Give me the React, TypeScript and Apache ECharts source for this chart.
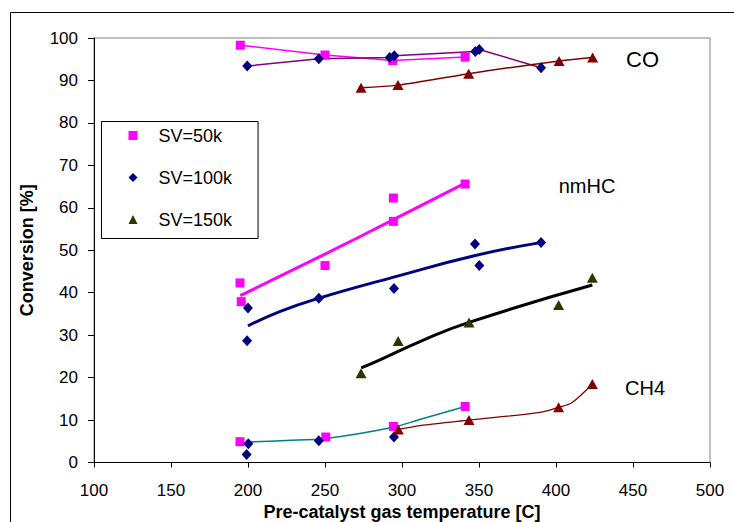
import React, { useEffect, useRef } from "react";
import * as echarts from "echarts";

// x-axis ticks and y-axis ticks
const xTicks = { min: 100, max: 500, step: 50 };
const yTicks = { min: 0, max: 100, step: 10 };

// CO conversion [temperature, %]
const coSV50 = [[195, 98.3], [250, 96.0], [294, 94.7], [341, 95.5]];
const coSV100 = [[199.5, 93.4], [246, 95.1], [292, 95.4], [295, 95.8], [347.6, 96.8], [350.2, 97.3], [390.3, 93.0]];
const coSV150 = [[273.4, 88.3], [297.4, 88.9], [343.3, 91.6], [402, 94.6], [423.8, 95.4]];

// nmHC conversion
const hcSV50 = [[194.8, 42.3], [195.6, 37.9], [250, 46.4], [294.4, 62.3], [294.4, 56.8], [341, 65.6]];
const hcSV100 = [[200, 36.4], [199.4, 28.7], [246, 38.7], [294.8, 41.0], [347.4, 51.5], [350.2, 46.4], [390.3, 51.8]];
const hcSV150 = [[273.4, 21.0], [297.5, 28.6], [343.5, 33.0], [401.7, 37.1], [423.6, 43.5]];

// nmHC trend lines
const hcTrend50 = [[195, 39.3], [250, 49.1], [294.4, 57.2], [341, 65.8]];
const hcTrend100 = [[200, 32.2], [221, 35.6], [246, 38.7], [294, 43.6], [347, 48.7], [390, 51.8]];
const hcTrend150 = [[273.5, 22.3], [285.7, 24.2], [311.7, 28.5], [343.5, 33.0], [423.6, 41.8]];

// CH4 conversion
const ch4SV50 = [[194.8, 4.9], [250.5, 6.0], [294.4, 8.5], [341, 13.2]];
const ch4SV100 = [[200.2, 4.4], [199.1, 1.9], [246, 5.1], [294.8, 6.0]];
const ch4SV150 = [[297.6, 7.8], [343.5, 10.0], [401.7, 13.0], [423.6, 18.5]];
const ch4Line50 = [[200, 4.8], [225, 5.2], [249.5, 5.6], [294.4, 8.3], [312, 10.2], [341, 13.2]];
const ch4Line150 = [[297.6, 7.8], [311.7, 8.7], [343.5, 10.0], [389.6, 11.8], [401.7, 13.0], [410, 14.0], [423.6, 18.5]];

const legendNames = ["SV=50k", "SV=100k", "SV=150k"];
const legendIcons = ["rect", "diamond", "triangle"];
const gasLabels = [
  { text: "CO", x: 642.5, y: 59, size: 22 },
  { text: "nmHC", x: 587, y: 186, size: 20 },
  { text: "CH4", x: 645, y: 388, size: 20 },
];

const FONT = "'Liberation Sans', Arial, sans-serif";
const PINK = "#FF00FF";
const NAVY = "#000080";
const OLIVE = "#333300";
const DRED = "#800000";
const PURPLE = "#800080";
const TEAL = "#008080";

const sqSym = { symbol: "rect", symbolSize: 9 };
const diaSym = { symbol: "diamond", symbolSize: [10, 11] };
const triSym = { symbol: "triangle", symbolSize: [11, 10] };

export default function App() {
  const ref = useRef<HTMLDivElement>(null);
  useEffect(() => {
    document.body.style.margin = "0";
    const chart = echarts.init(ref.current!, null, { renderer: "svg" });
    const lineSeries = (name: string, data: number[][], color: string, width: number, smooth: any, z = 2) => ({
      name,
      type: "line",
      data,
      showSymbol: false,
      smooth,
      lineStyle: { color, width },
      itemStyle: { color },
      z,
      silent: true,
    });
    const scatter = (name: string, data: number[][], color: string, sym: any, z = 4) => ({
      name,
      type: "scatter",
      data,
      ...sym,
      itemStyle: { color, opacity: 1 },
      z,
      silent: true,
    });
    chart.setOption({
      animation: false,
      backgroundColor: "#fff",
      textStyle: { fontFamily: FONT },
      grid: {
        left: 94,
        right: 24,
        top: 38,
        bottom: 59.5,
        show: true,
        borderColor: "#808080",
        borderWidth: 1,
        containLabel: false,
        outerBoundsMode: "none",
      },
      legend: {
        data: legendNames.map((n, i) => ({ name: n, icon: legendIcons[i] })),
        orient: "vertical",
        left: 101.5,
        top: 121.5,
        itemWidth: 9,
        itemHeight: 9,
        itemGap: 24,
        padding: [5, 26, 10, 27],
        borderColor: "#000",
        borderWidth: 1,
        selectedMode: false,
        textStyle: { fontSize: 18, fontFamily: FONT, color: "#000", padding: [0, 0, 0, 16] },
      },
      xAxis: {
        type: "value",
        min: xTicks.min,
        max: xTicks.max,
        interval: xTicks.step,
        name: "Pre-catalyst gas temperature [C]",
        nameLocation: "middle",
        nameGap: 40,
        nameTextStyle: { fontSize: 18, fontWeight: "bold", color: "#000", fontFamily: FONT },
        axisLine: { lineStyle: { color: "#000", width: 1 } },
        axisTick: { show: true, length: 5, lineStyle: { color: "#000" } },
        axisLabel: { fontSize: 17, color: "#000", margin: 19, fontFamily: FONT },
        splitLine: { show: false },
      },
      yAxis: {
        type: "value",
        min: yTicks.min,
        max: yTicks.max,
        interval: yTicks.step,
        name: "Conversion [%]",
        nameLocation: "middle",
        nameGap: 58,
        nameTextStyle: { fontSize: 18, fontWeight: "bold", color: "#000", fontFamily: FONT },
        axisLine: { show: true, lineStyle: { color: "#000", width: 1 } },
        axisTick: { show: true, length: 6, lineStyle: { color: "#000" } },
        axisLabel: { fontSize: 17, color: "#000", margin: 16, fontFamily: FONT },
        splitLine: { show: false },
      },
      graphic: [
        {
          type: "rect",
          shape: { x: 10.5, y: 12.5, width: 900, height: 700 },
          style: { fill: "none", stroke: "#000", lineWidth: 1 },
          silent: true,
        },
        ...gasLabels.map((g) => ({
          type: "text",
          x: g.x,
          y: g.y,
          style: {
            text: g.text,
            fontSize: g.size,
            fontFamily: FONT,
            fill: "#000",
            textAlign: "center",
            textVerticalAlign: "middle",
          },
          silent: true,
        })),
      ],
      series: [
        // legend series (nmHC markers)
        scatter("SV=50k", hcSV50, PINK, sqSym),
        scatter("SV=100k", hcSV100, NAVY, diaSym),
        scatter("SV=150k", hcSV150, OLIVE, triSym),
        // nmHC trend lines
        lineSeries("trend50", hcTrend50, PINK, 3, true, 3),
        lineSeries("trend100", hcTrend100, NAVY, 3, true, 3),
        lineSeries("trend150", hcTrend150, "#000", 3, true, 3),
        // CO
        lineSeries("CO50 line", coSV50, PINK, 1.5, false),
        lineSeries("CO100 line", coSV100, PURPLE, 1.5, false),
        lineSeries("CO150 line", coSV150, DRED, 1.5, 0.3),
        scatter("CO50", coSV50, PINK, sqSym),
        scatter("CO100", coSV100, NAVY, diaSym),
        scatter("CO150", coSV150, DRED, triSym),
        // CH4
        lineSeries("CH4 50 line", ch4Line50, TEAL, 1.5, 0.3),
        lineSeries("CH4 150 line", ch4Line150, DRED, 1.2, 0.3),
        scatter("CH4 50", ch4SV50, PINK, sqSym),
        scatter("CH4 100", ch4SV100, NAVY, diaSym),
        scatter("CH4 150", ch4SV150, DRED, triSym, 5),
      ],
    });
    return () => chart.dispose();
  }, []);
  return <div ref={ref} style={{ width: 734, height: 522 }} />;
}
